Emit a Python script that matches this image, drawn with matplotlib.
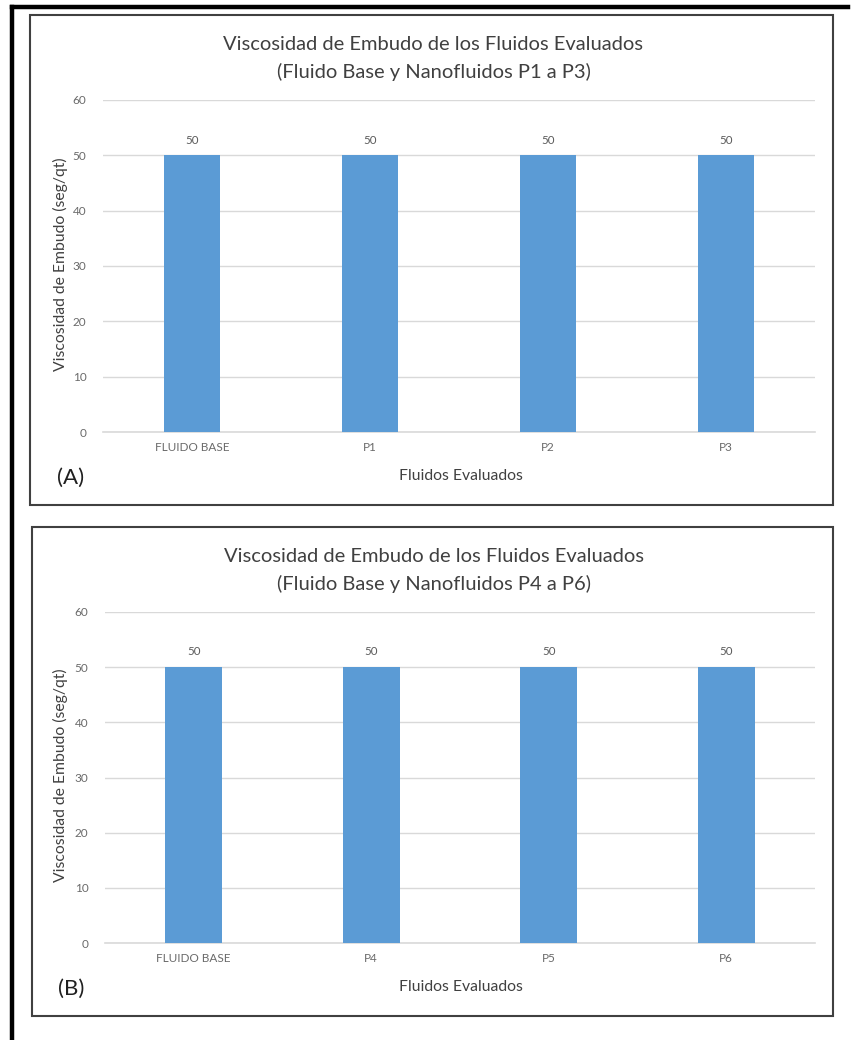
import matplotlib
matplotlib.use("Agg")
import matplotlib.pyplot as plt
from matplotlib.patches import Rectangle
from matplotlib.lines import Line2D

plt.rcParams['font.family'] = ['Lato', 'DejaVu Sans']

# datos de viscosidad de embudo (seg/qt)
fluidos_a = ["FLUIDO BASE", "P1", "P2", "P3"]
visc_a = [50, 50, 50, 50]
fluidos_b = ["FLUIDO BASE", "P4", "P5", "P6"]
visc_b = [50, 50, 50, 50]

W, H = 853, 1040
fig = plt.figure(figsize=(W / 100, H / 100), dpi=100)

def fx(x):
    return x / W

def fy(y):
    return 1 - y / H

# marco exterior (solo arriba e izquierda)
fig.add_artist(Line2D([fx(12), fx(848)], [fy(6.5), fy(6.5)], color="black", lw=3.2))
fig.add_artist(Line2D([fx(12), fx(12)], [fy(6.5), fy(1040)], color="black", lw=3.2))

def panel(box, ax_box, cats, vals, sub, title2):
    x0, y0, x1, y1 = box
    fig.add_artist(Rectangle((fx(x0), fy(y1)), fx(x1) - fx(x0), fy(y0) - fy(y1),
                             fill=False, ec="#404040", lw=1.5))
    l, t, r, b = ax_box
    ax = fig.add_axes([fx(l), fy(b), fx(r) - fx(l), fy(t) - fy(b)])
    xs = range(len(cats))
    bars = ax.bar(xs, vals, width=0.32, color="#5b9bd5", zorder=3)
    ax.set_xlim(-0.5, len(cats) - 0.5)
    ax.set_ylim(0, 60)
    ax.set_yticks(range(0, 61, 10))
    ax.grid(axis="y", color="#d9d9d9", lw=1, zorder=0)
    ax.axhline(0, color="#d9d9d9", lw=1.2, zorder=2, clip_on=False)
    for s in ax.spines.values():
        s.set_visible(False)
    ax.tick_params(length=0, labelsize=8.5, labelcolor="#6a6a6a", pad=12)
    ax.tick_params(axis="x", pad=7)
    ax.set_xticks(list(xs))
    ax.set_xticklabels(cats)
    for rect, v in zip(bars, vals):
        ax.annotate(f"{v}", (rect.get_x() + rect.get_width() / 2, v),
                    xytext=(0, 7), textcoords="offset points",
                    ha="center", va="bottom", fontsize=8.3, color="#5a5a5a")
    cx = (x0 + x1) / 2 + 2
    fig.text(fx(cx), fy(y0 + 30), "Viscosidad de Embudo de los Fluidos Evaluados",
             ha="center", va="center", fontsize=14.5, color="#404040")
    fig.text(fx(cx), fy(y0 + 57), title2,
             ha="center", va="center", fontsize=14.5, color="#404040")
    fig.text(fx(60), fy((t + b) / 2 - 2), "Viscosidad de Embudo (seg/qt)", rotation=90,
             ha="center", va="center", fontsize=11.3, color="#404040")
    fig.text(fx(461), fy(b + 44), "Fluidos Evaluados",
             ha="center", va="center", fontsize=11.3, color="#404040")
    fig.text(fx(71), fy(b + 46), sub, ha="center", va="center",
             fontsize=16, color="#202020")
    return ax

panel((30, 15, 833, 505), (103, 100, 815, 432), fluidos_a, visc_a, "(A)",
      "(Fluido Base y Nanofluidos P1 a P3)")
panel((32, 527, 833, 1016), (105, 612, 815, 943), fluidos_b, visc_b, "(B)",
      "(Fluido Base y Nanofluidos P4 a P6)")

fig.savefig("out.png", dpi=100, facecolor="white")
